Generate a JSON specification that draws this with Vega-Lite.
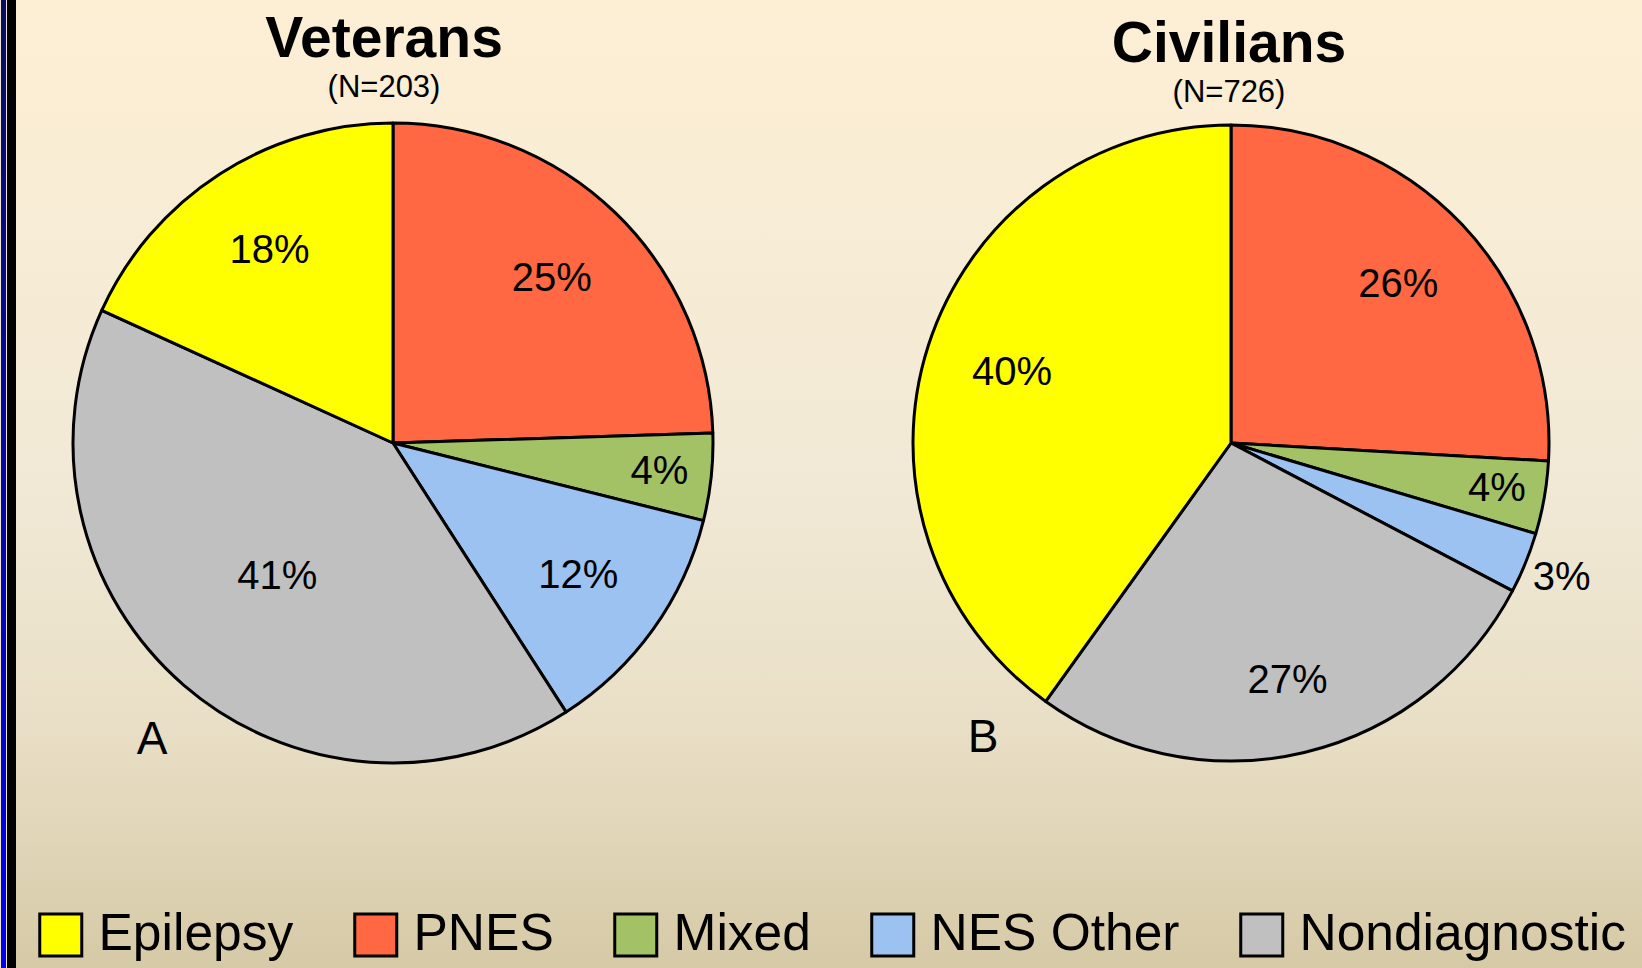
{
  "$schema": "https://vega.github.io/schema/vega-lite/v6.json",
  "background": "#EFE6CF",
  "padding": 0,
  "spacing": 0,
  "config": {
    "view": {"stroke": null},
    "concat": {"spacing": 0},
    "font": "Liberation Sans"
  },
  "datasets": {
    "pies": [
      {"group": "Veterans", "category": "PNES", "share": 24.5, "label": "25%", "rank": 1},
      {"group": "Veterans", "category": "Mixed", "share": 4.4, "label": "4%", "rank": 2},
      {"group": "Veterans", "category": "NES Other", "share": 12.0, "label": "12%", "rank": 3},
      {"group": "Veterans", "category": "Nondiagnostic", "share": 40.9, "label": "41%", "rank": 4},
      {"group": "Veterans", "category": "Epilepsy", "share": 18.2, "label": "18%", "rank": 5},
      {"group": "Civilians", "category": "PNES", "share": 25.9, "label": "26%", "rank": 1},
      {"group": "Civilians", "category": "Mixed", "share": 3.7, "label": "4%", "rank": 2},
      {"group": "Civilians", "category": "NES Other", "share": 3.1, "label": "3%", "rank": 3},
      {"group": "Civilians", "category": "Nondiagnostic", "share": 27.2, "label": "27%", "rank": 4},
      {"group": "Civilians", "category": "Epilepsy", "share": 40.1, "label": "40%", "rank": 5}
    ]
  },
  "hconcat": [
    {
      "width": 5, "height": 968,
      "view": {"stroke": null, "fill": {"gradient": "linear", "x1": 0, "y1": 0, "x2": 0, "y2": 1, "stops": [{"offset": 0, "color": "#0B0B66"}, {"offset": 1, "color": "#0000F5"}]}},
      "data": {"values": [{}]},
      "mark": {"type": "point", "opacity": 0},
      "encoding": {}
    },
    {
      "width": 9, "height": 968,
      "view": {"stroke": null, "fill": "#000000"},
      "data": {"values": [{}]},
      "mark": {"type": "point", "opacity": 0},
      "encoding": {}
    },
    {
      "spacing": 0,
      "vconcat": [
        {
          "spacing": 0,
          "hconcat": [
            {
              "width": 754, "height": 886,
              "view": {"stroke": null, "fill": {"gradient": "linear", "x1": 0, "y1": 0, "x2": 0, "y2": 1, "stops": [{"offset": 0, "color": "#FDEFD4"}, {"offset": 0.546, "color": "#F1E9D6"}, {"offset": 0.819, "color": "#E9DFC6"}, {"offset": 1, "color": "#DCD1B1"}]}},
              "title": {"text": "Veterans", "subtitle": "(N=203)", "anchor": "middle", "frame": "group", "offset": -104, "dx": -9, "font": "Liberation Sans", "fontSize": 57, "fontWeight": "bold", "color": "#000000", "subtitleFont": "Liberation Sans", "subtitleFontSize": 31, "subtitleColor": "#000000", "subtitlePadding": 4},
              "data": {"name": "pies"},
              "transform": [{"filter": {"field": "group", "equal": "Veterans"}}],
              "layer": [
                {
                  "mark": {"type": "arc", "outerRadius": 320, "stroke": "#000000", "strokeWidth": 3, "strokeJoin": "round"},
                  "encoding": {
                    "theta": {"field": "share", "type": "quantitative", "stack": true},
                    "order": {"field": "rank", "type": "quantitative"},
                    "color": {
                      "field": "category", "type": "nominal",
                      "scale": {"domain": ["Epilepsy", "PNES", "Mixed", "NES Other", "Nondiagnostic"], "range": ["#FFFF00", "#FF6842", "#A2C265", "#9CC2F2", "#C0C0C0"]},
                      "legend": {"orient": "none", "legendX": 34, "legendY": 909, "direction": "horizontal", "columns": 5, "title": null, "padding": 0, "symbolType": "square", "symbolSize": 1764, "symbolStrokeColor": "#000000", "symbolStrokeWidth": 3, "symbolFillOpacity": 1, "labelFont": "Liberation Sans", "labelFontSize": 51.5, "labelColor": "#000000", "labelOffset": 12, "labelLimit": 500, "columnPadding": 54}
                    }
                  }
                },
                {
                  "mark": {"type": "text", "font": "Liberation Sans", "fontSize": 40, "color": "#000000", "radius": {"expr": "datum.category === 'Nondiagnostic' ? 177 : datum.category === 'Mixed' ? 268 : 228"}},
                  "encoding": {
                    "theta": {"field": "share", "type": "quantitative", "stack": true},
                    "order": {"field": "rank", "type": "quantitative"},
                    "detail": {"field": "category", "type": "nominal"},
                    "text": {"field": "label", "type": "nominal"}
                  }
                },
                {
                  "data": {"values": [{"tag": "A"}]},
                  "mark": {"type": "text", "font": "Liberation Sans", "fontSize": 46, "color": "#000000", "x": 136, "y": 740},
                  "encoding": {"text": {"field": "tag", "type": "nominal"}}
                }
              ]
            },
            {
              "width": 48, "height": 886,
              "view": {"stroke": null, "fill": {"gradient": "linear", "x1": 0, "y1": 0, "x2": 0, "y2": 1, "stops": [{"offset": 0, "color": "#FDEFD4"}, {"offset": 0.546, "color": "#F1E9D6"}, {"offset": 0.819, "color": "#E9DFC6"}, {"offset": 1, "color": "#DCD1B1"}]}},
              "data": {"values": [{}]},
              "mark": {"type": "point", "opacity": 0},
              "encoding": {}
            },
            {
              "width": 826, "height": 886,
              "view": {"stroke": null, "fill": {"gradient": "linear", "x1": 0, "y1": 0, "x2": 0, "y2": 1, "stops": [{"offset": 0, "color": "#FDEFD4"}, {"offset": 0.546, "color": "#F1E9D6"}, {"offset": 0.819, "color": "#E9DFC6"}, {"offset": 1, "color": "#DCD1B1"}]}},
              "title": {"text": "Civilians", "subtitle": "(N=726)", "anchor": "middle", "frame": "group", "offset": -109, "dx": -2, "font": "Liberation Sans", "fontSize": 57, "fontWeight": "bold", "color": "#000000", "subtitleFont": "Liberation Sans", "subtitleFontSize": 31, "subtitleColor": "#000000", "subtitlePadding": 4},
              "data": {"name": "pies"},
              "transform": [{"filter": {"field": "group", "equal": "Civilians"}}],
              "layer": [
                {
                  "mark": {"type": "arc", "outerRadius": 318, "stroke": "#000000", "strokeWidth": 3, "strokeJoin": "round"},
                  "encoding": {
                    "theta": {"field": "share", "type": "quantitative", "stack": true},
                    "order": {"field": "rank", "type": "quantitative"},
                    "color": {
                      "field": "category", "type": "nominal",
                      "scale": {"domain": ["Epilepsy", "PNES", "Mixed", "NES Other", "Nondiagnostic"], "range": ["#FFFF00", "#FF6842", "#A2C265", "#9CC2F2", "#C0C0C0"]},
                      "legend": {"orient": "none", "legendX": 34, "legendY": 909, "direction": "horizontal", "columns": 5, "title": null, "padding": 0, "symbolType": "square", "symbolSize": 1764, "symbolStrokeColor": "#000000", "symbolStrokeWidth": 3, "symbolFillOpacity": 1, "labelFont": "Liberation Sans", "labelFontSize": 51.5, "labelColor": "#000000", "labelOffset": 12, "labelLimit": 500, "columnPadding": 54}
                    }
                  }
                },
                {
                  "mark": {"type": "text", "font": "Liberation Sans", "fontSize": 40, "color": "#000000", "radius": {"expr": "datum.category === 'NES Other' ? 357 : datum.category === 'Mixed' ? 270 : datum.category === 'Nondiagnostic' ? 245 : 230"}},
                  "encoding": {
                    "theta": {"field": "share", "type": "quantitative", "stack": true},
                    "order": {"field": "rank", "type": "quantitative"},
                    "detail": {"field": "category", "type": "nominal"},
                    "text": {"field": "label", "type": "nominal"}
                  }
                },
                {
                  "data": {"values": [{"tag": "B"}]},
                  "mark": {"type": "text", "font": "Liberation Sans", "fontSize": 46, "color": "#000000", "x": 165, "y": 738},
                  "encoding": {"text": {"field": "tag", "type": "nominal"}}
                }
              ]
            }
          ]
        },
        {
          "width": 1628, "height": 82,
          "view": {"stroke": null, "fill": {"gradient": "linear", "x1": 0, "y1": 0, "x2": 0, "y2": 1, "stops": [{"offset": 0, "color": "#DCD1B1"}, {"offset": 1, "color": "#D6C9A6"}]}},
          "data": {"values": [{}]},
          "mark": {"type": "point", "opacity": 0},
          "encoding": {}
        }
      ]
    }
  ]
}
